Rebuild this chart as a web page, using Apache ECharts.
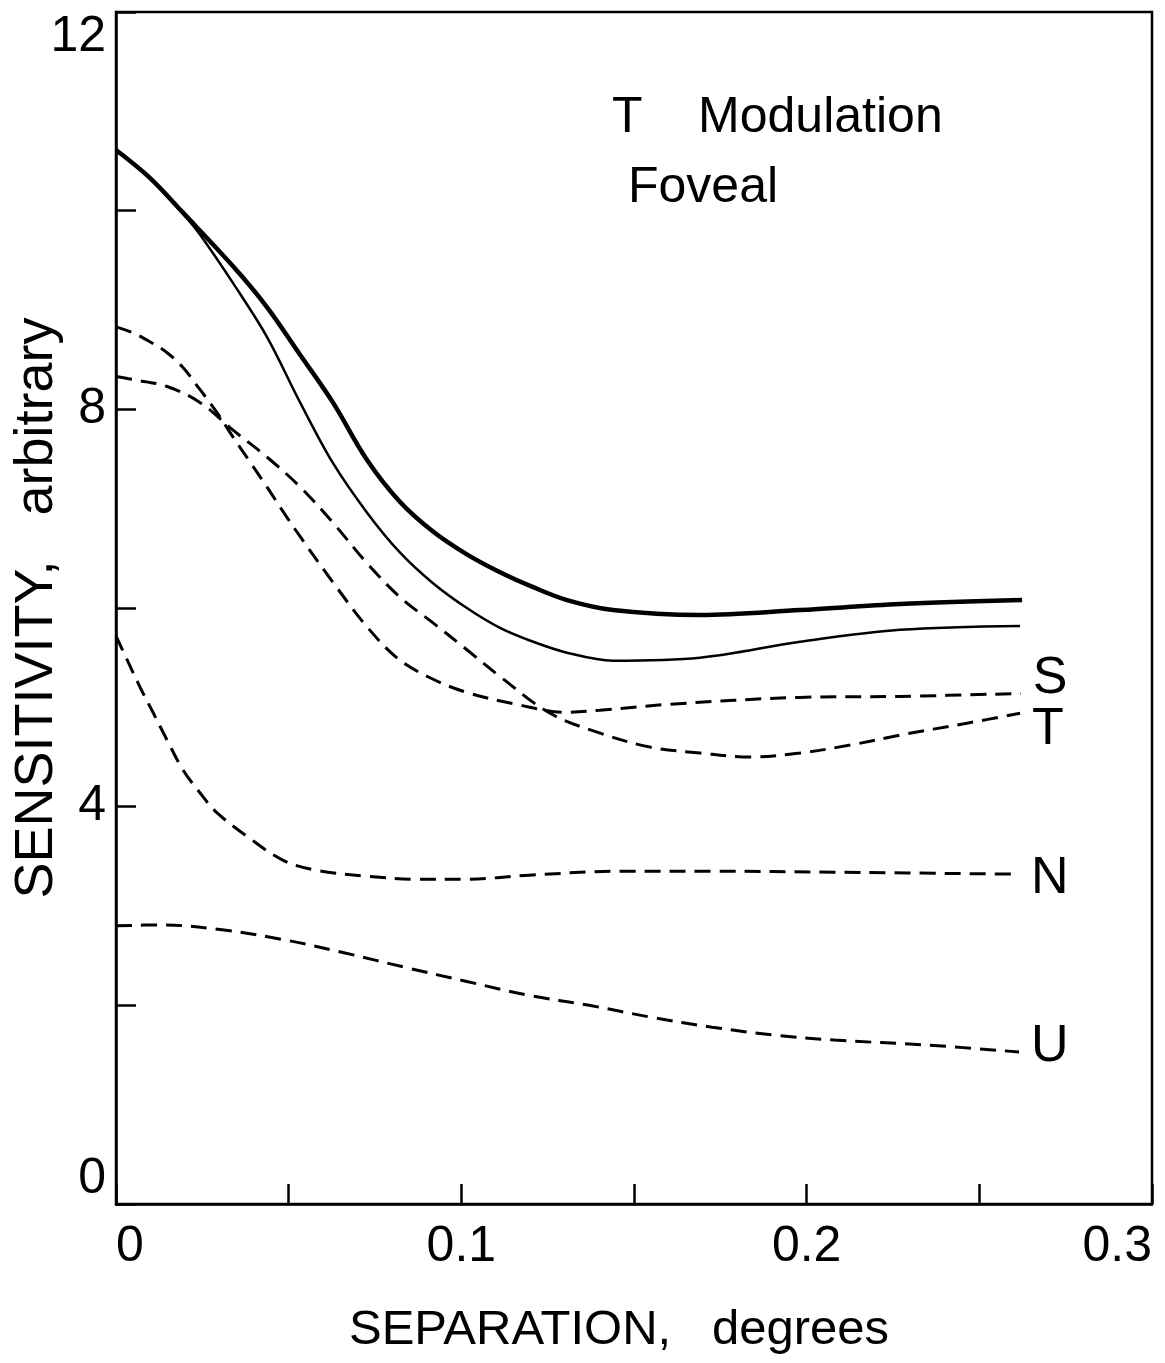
<!DOCTYPE html>
<html>
<head>
<meta charset="utf-8">
<script src="https://cdn.jsdelivr.net/npm/echarts@6/dist/echarts.min.js"></script>
<style>
  html, body { margin: 0; padding: 0; background: #fff; }
  #chart { width: 1165px; height: 1363px; }
</style>
</head>
<body>
<div id="chart"></div>
<script>
// separation (deg) / sensitivity
var sepThick  = [0, 0.0098, 0.0194, 0.0339, 0.0437, 0.0533, 0.0628, 0.0727, 0.0822, 0.0918, 0.1016, 0.1112, 0.1208, 0.1306, 0.1439, 0.1691, 0.1981, 0.227, 0.2624];
var sensThick = [10.61, 10.33, 9.98, 9.44, 9.03, 8.55, 8.07, 7.49, 7.07, 6.77, 6.54, 6.36, 6.21, 6.08, 5.98, 5.93, 5.98, 6.04, 6.08];

var sepThin  = [0, 0.0098, 0.0194, 0.0243, 0.0339, 0.0437, 0.0533, 0.0628, 0.0727, 0.0822, 0.0918, 0.1016, 0.1112, 0.1208, 0.1306, 0.1439, 0.1691, 0.1981, 0.227, 0.2618];
var sensThin = [10.61, 10.33, 9.97, 9.76, 9.27, 8.73, 8.07, 7.46, 6.96, 6.56, 6.25, 6.0, 5.8, 5.66, 5.55, 5.47, 5.5, 5.66, 5.78, 5.82];

var sepS  = [0, 0.0049, 0.0098, 0.0148, 0.0194, 0.0243, 0.0292, 0.0339, 0.0388, 0.0437, 0.0484, 0.0533, 0.0628, 0.0727, 0.082, 0.092, 0.1016, 0.116, 0.13, 0.14, 0.16, 0.198, 0.227, 0.262];
var sensS = [8.83, 8.77, 8.68, 8.57, 8.42, 8.2, 7.97, 7.72, 7.47, 7.22, 6.97, 6.72, 6.26, 5.81, 5.48, 5.28, 5.15, 5.03, 4.95, 4.97, 5.03, 5.1, 5.11, 5.14];

var sepT  = [0, 0.0049, 0.0148, 0.0243, 0.0339, 0.0437, 0.0533, 0.0628, 0.0727, 0.0822, 0.0918, 0.1016, 0.1112, 0.1257, 0.1402, 0.1546, 0.1691, 0.1836, 0.1981, 0.2126, 0.227, 0.2464, 0.2618];
var sensT = [8.33, 8.3, 8.23, 8.07, 7.79, 7.52, 7.22, 6.86, 6.45, 6.11, 5.85, 5.58, 5.31, 4.94, 4.74, 4.6, 4.54, 4.5, 4.54, 4.62, 4.72, 4.84, 4.94];

var sepN  = [0, 0.0032, 0.007, 0.0107, 0.0148, 0.0194, 0.0243, 0.0292, 0.038, 0.0484, 0.058, 0.0727, 0.087, 0.1016, 0.1196, 0.146, 0.1726, 0.208, 0.2615];
var sensN = [5.72, 5.48, 5.2, 4.95, 4.67, 4.37, 4.14, 3.94, 3.7, 3.46, 3.36, 3.3, 3.27, 3.27, 3.31, 3.35, 3.35, 3.34, 3.32];

var sepU  = [0, 0.013, 0.0307, 0.0487, 0.066, 0.084, 0.1016, 0.1196, 0.137, 0.155, 0.1726, 0.1906, 0.208, 0.235, 0.2615];
var sensU = [2.8, 2.81, 2.76, 2.66, 2.53, 2.38, 2.24, 2.1, 2.0, 1.88, 1.78, 1.7, 1.65, 1.6, 1.53];

var FONT = '"Liberation Sans", Arial, sans-serif';

function pairs(xs, ys) {
  var out = [];
  for (var i = 0; i < xs.length; i++) {
    out.push([xs[i], ys[i]]);
  }
  return out;
}

function curve(name, xs, ys, width, dashed, labelOffset) {
  var s = {
    name: name,
    type: 'line',
    data: pairs(xs, ys),
    smooth: 0.35,
    symbol: 'none',
    silent: true,
    lineStyle: {
      color: '#000',
      width: width,
      type: dashed ? [16, 9] : 'solid'
    }
  };
  if (labelOffset) {
    s.endLabel = {
      show: true,
      formatter: name,
      distance: 12,
      offset: labelOffset,
      color: '#000',
      fontFamily: FONT,
      fontSize: 52
    };
  }
  return s;
}

var chart = echarts.init(document.getElementById('chart'));
chart.setOption({
  backgroundColor: '#fff',
  animation: false,
  grid: {
    left: 116,
    top: 12,
    right: 13,
    bottom: 159,
    show: true,
    borderColor: '#000',
    borderWidth: 2.5,
    outerBoundsMode: 'none'
  },
  xAxis: {
    type: 'value',
    min: 0,
    max: 0.3,
    interval: 0.05,
    splitLine: { show: false },
    axisLine: { lineStyle: { color: '#000', width: 2.5 } },
    axisTick: { inside: true, length: 20, lineStyle: { color: '#000', width: 2.5 } },
    axisLabel: {
      color: '#000',
      fontFamily: FONT,
      fontSize: 50,
      margin: 18,
      alignMinLabel: 'left',
      alignMaxLabel: 'right',
      formatter: function (v) {
        var k = Math.round(v * 100);
        if (k % 10 !== 0) return '';
        return k === 0 ? '0' : (k / 100).toFixed(1);
      }
    },
    name: 'SEPARATION,   degrees',
    nameLocation: 'middle',
    nameGap: 102,
    nameMoveOverlap: false,
    nameTextStyle: { color: '#000', fontFamily: FONT, fontSize: 49, padding: [0, 30, 0, 0] }
  },
  yAxis: {
    type: 'value',
    min: 0,
    max: 12,
    interval: 2,
    splitLine: { show: false },
    axisLine: { lineStyle: { color: '#000', width: 2.5 } },
    axisTick: { inside: true, length: 20, lineStyle: { color: '#000', width: 2.5 } },
    axisLabel: {
      color: '#000',
      fontFamily: FONT,
      fontSize: 50,
      margin: 10,
      verticalAlignMinLabel: 'bottom',
      verticalAlignMaxLabel: 'top',
      formatter: function (v) {
        return v % 4 === 0 ? String(v) : '';
      }
    },
    name: 'SENSITIVITY,   arbitrary',
    nameLocation: 'middle',
    nameGap: 52,
    nameMoveOverlap: false,
    nameTextStyle: { color: '#000', fontFamily: FONT, fontSize: 54 }
  },
  graphic: [
    {
      type: 'text',
      left: 612,
      top: 93,
      style: { text: 'T    Modulation', font: '50px ' + FONT, fill: '#000' }
    },
    {
      type: 'text',
      left: 628,
      top: 163,
      style: { text: 'Foveal', font: '50px ' + FONT, fill: '#000' }
    }
  ],
  series: [
    curve('thick', sepThick, sensThick, 4.5, false),
    curve('thin', sepThin, sensThin, 2.5, false),
    curve('S', sepS, sensS, 3, true, [0, -15]),
    curve('T', sepT, sensT, 3, true, [0, 16]),
    curve('N', sepN, sensN, 3, true, [0, 4]),
    curve('U', sepU, sensU, 3, true, [0, -5])
  ]
});
</script>
</body>
</html>
